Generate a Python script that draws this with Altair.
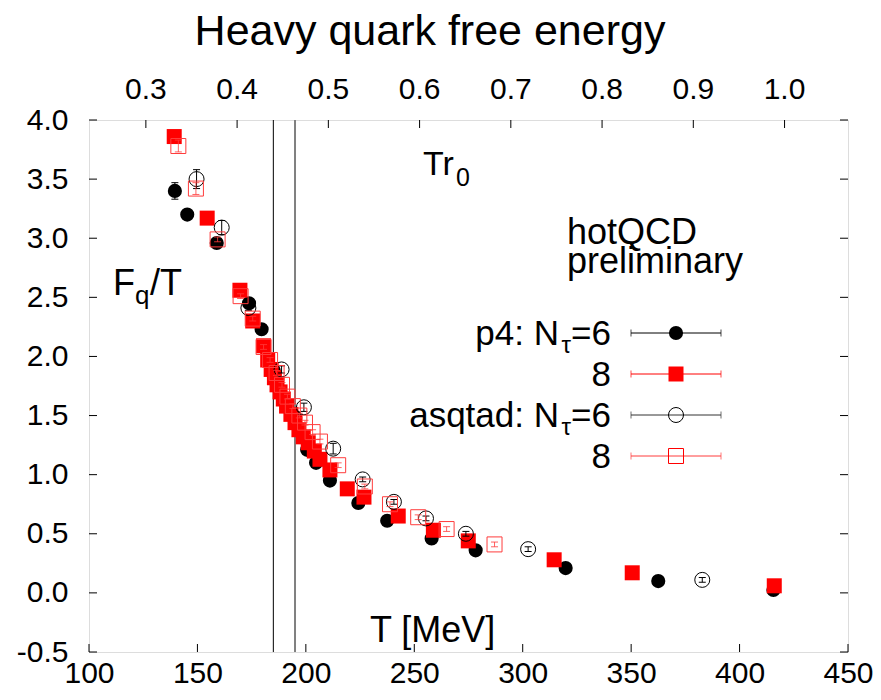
import altair as alt
import pandas as pd

R0 = 0.469 / 197.327  # r0 in 1/MeV, for the upper T*r0 scale
T_DOMAIN = [100, 450]
F_DOMAIN = [-0.5, 4.0]
W, H = 759, 532
FONT = "Liberation Sans"

T_TICKS = [100, 150, 200, 250, 300, 350, 400, 450]
F_TICKS = [-0.5, 0.0, 0.5, 1.0, 1.5, 2.0, 2.5, 3.0, 3.5, 4.0]
TR0_TICKS = [0.3, 0.4, 0.5, 0.6, 0.7, 0.8, 0.9, 1.0]
TC_LINES = [185, 195]

# p4, N_tau = 6
p4_6_T = [139.6, 145.3, 158.9, 173.8, 179.6, 185.2, 195.0, 200.6, 204.7, 211.1,
          224.2, 237.5, 258.0, 278.3, 319.8, 362.5, 415.6]
p4_6_F = [3.40, 3.20, 2.96, 2.45, 2.23, 1.88, 1.49, 1.21, 1.10, 0.95,
          0.76, 0.61, 0.46, 0.36, 0.21, 0.10, 0.025]
p4_6_err = [0.07, 0.01, 0.01, 0.01, 0.01, 0.02, 0.02, 0.01, 0.01, 0.01,
            0.01, 0.01, 0.01, 0.01, 0.01, 0.01, 0.01]

# p4, N_tau = 8
p4_8_T = [139.3, 154.5, 169.6, 175.5, 180.5, 182.4, 184.0, 185.5, 186.7, 188.1,
          189.6, 191.1, 193.1, 195.0, 196.8, 198.8, 201.1, 203.9, 206.5, 211.1,
          219.1, 226.8, 242.6, 258.8, 274.9, 314.5, 350.5, 416.0]
p4_8_F = [3.86, 3.17, 2.56, 2.30, 2.09, 1.97, 1.89, 1.82, 1.76, 1.70,
          1.64, 1.58, 1.51, 1.44, 1.38, 1.32, 1.27, 1.20, 1.13, 1.04,
          0.88, 0.81, 0.65, 0.53, 0.44, 0.28, 0.17, 0.06]
p4_8_err = [0.02] * len(p4_8_T)

# asqtad, N_tau = 6
as_6_T = [149.6, 161.2, 173.5, 188.8, 199.1, 212.6, 226.2, 240.6, 255.4, 273.8,
          302.5, 382.8]
as_6_F = [3.50, 3.09, 2.41, 1.89, 1.57, 1.22, 0.96, 0.77, 0.63, 0.50, 0.37, 0.11]
as_6_err = [0.08, 0.06, 0.02, 0.03, 0.035, 0.045, 0.02, 0.02, 0.02, 0.02, 0.02, 0.02]

# asqtad, N_tau = 8
as_8_T = [141.2, 149.3, 159.3, 169.9, 175.5, 180.5, 183.5, 186.5, 189.0, 191.5,
          194.0, 197.0, 199.6, 203.1, 206.5, 214.9, 227.2, 238.8, 251.8, 264.9, 287.0]
as_8_F = [3.78, 3.42, 2.99, 2.51, 2.32, 2.08, 1.97, 1.86, 1.76, 1.66,
          1.58, 1.50, 1.44, 1.36, 1.28, 1.08, 0.90, 0.75, 0.64, 0.54, 0.41]
as_8_err = [0.05, 0.05, 0.02, 0.02, 0.02, 0.02, 0.02, 0.02, 0.02, 0.02,
            0.02, 0.02, 0.02, 0.02, 0.02, 0.02, 0.02, 0.02, 0.02, 0.02, 0.02]

RED = "#ff0000"
LIGHT_RED = "#ff3c3c"

xs = alt.Scale(domain=T_DOMAIN, nice=False, zero=False)
ys = alt.Scale(domain=F_DOMAIN, nice=False, zero=False)

x_axis = alt.Axis(values=T_TICKS, format="d", title=None, grid=False, ticks=False, domain=False,
                  labelFont=FONT, labelFontSize=30, labelColor="black", labelPadding=30,
                  labelBaseline="alphabetic", labelFlush=False, labelOverlap=False)
y_axis = alt.Axis(values=F_TICKS, title=None, grid=False, ticks=False, domain=False,
                  labelFont=FONT, labelFontSize=30, labelColor="black", labelPadding=21,
                  labelFlush=False, labelOverlap=False,
                  labelExpr="datum.value < 0 ? '-' + format(-datum.value, '.1f') : format(datum.value, '.1f')")


def xenc(field="T"):
    return alt.X(f"{field}:Q", scale=xs, axis=x_axis)


def yenc(field="F"):
    return alt.Y(f"{field}:Q", scale=ys, axis=y_axis)


def frame(t, f, err):
    return pd.DataFrame({"T": t, "F": f,
                         "lo": [a - b for a, b in zip(f, err)],
                         "hi": [a + b for a, b in zip(f, err)]})


def series(df, color, shape, filled, size, bar_opacity=1.0):
    bars = alt.Chart(df).mark_rule(color=color, strokeWidth=1, opacity=bar_opacity).encode(
        x=xenc(), y=yenc("lo"), y2="hi:Q")
    cap_lo = alt.Chart(df).mark_point(shape="M-1,0L1,0", size=49, color=color, strokeWidth=1,
                                      opacity=bar_opacity).encode(x=xenc(), y=yenc("lo"))
    cap_hi = alt.Chart(df).mark_point(shape="M-1,0L1,0", size=49, color=color, strokeWidth=1,
                                      opacity=bar_opacity).encode(x=xenc(), y=yenc("hi"))
    pts = alt.Chart(df).mark_point(shape=shape, filled=filled, size=size, color=color,
                                   strokeWidth=1, opacity=1).encode(x=xenc(), y=yenc("F"))
    return [bars, cap_lo, cap_hi, pts]


one = pd.DataFrame({"k": [0]})


def text(s, x, y, size, align="left", color="black"):
    return alt.Chart(one).mark_text(text=s, align=align, baseline="alphabetic", font=FONT,
                                    fontSize=size, color=color).encode(x=alt.value(x), y=alt.value(y))


# Tc band lines
tc = pd.DataFrame({"T": TC_LINES, "c": ["#000000", "#808080"], "w": [1, 2]})
tc_lines = alt.Chart(tc).mark_rule().encode(
    x=xenc(), y=alt.value(0), y2=alt.value(H),
    color=alt.Color("c:N", scale=None), strokeWidth=alt.StrokeWidth("w:Q", scale=None))

# inward ticks
tt = pd.DataFrame({"T": T_TICKS})
ft = pd.DataFrame({"F": F_TICKS})
rt = pd.DataFrame({"tr0": TR0_TICKS})
ticks = [
    alt.Chart(tt).mark_rule(color="black").encode(x=xenc(), y=alt.value(H - 8), y2=alt.value(H)),
    alt.Chart(ft).mark_rule(color="black").encode(y=yenc(), x=alt.value(0), x2=alt.value(8)),
    alt.Chart(ft).mark_rule(color="black").encode(y=yenc(), x=alt.value(W - 8), x2=alt.value(W)),
    alt.Chart(rt).transform_calculate(T=f"datum.tr0 / {R0}").mark_rule(color="black").encode(
        x=xenc(), y=alt.value(0), y2=alt.value(8)),
    alt.Chart(rt).transform_calculate(T=f"datum.tr0 / {R0}", lab="format(datum.tr0, '.1f')").mark_text(
        baseline="alphabetic", font=FONT, fontSize=30, color="black").encode(
        x=xenc(), y=alt.value(-21), text="lab:N"),
]

layers = [tc_lines] + ticks
layers += series(frame(p4_6_T, p4_6_F, p4_6_err), "black", "circle", True, 200)
layers += series(frame(p4_8_T, p4_8_F, p4_8_err), RED, "square", True, 225)
layers += series(frame(as_6_T, as_6_F, as_6_err), "black", "circle", False, 225)
layers += series(frame(as_8_T, as_8_F, as_8_err), LIGHT_RED, "square", False, 225, 0.8)

# labels
layers += [
    text("Heavy quark free energy", 341, -75, 43, align="center"),
    text("F", 24, 175, 36),
    text("q", 46, 184, 26),
    text("/T", 61, 175, 36),
    text("T [MeV]", 281, 522, 36),
    text("Tr", 334, 55, 34),
    text("0", 367, 66, 25),
    text("hotQCD", 478, 124, 36),
    text("preliminary", 478, 153, 36),
]

# legend
rows = [213, 254, 295, 336]
legend_items = [
    ("p4: N", "black", "circle", True, 200),
    (None, RED, "square", True, 225),
    ("asqtad: N", "#333333", "circle", False, 225),
    (None, LIGHT_RED, "square", False, 225),
]
for ry, (name, color, shape, filled, size) in zip(rows, legend_items):
    if name:
        layers += [text("=6", 522, ry + 12, 35, align="right"),
                   text("τ", 482, ry + 20, 24, align="right"),
                   text(name, 470, ry + 12, 35, align="right")]
    else:
        layers.append(text("8", 522, ry + 12, 35, align="right"))
    layers += [
        alt.Chart(one).mark_rule(color=color, strokeWidth=1).encode(
            x=alt.value(542), x2=alt.value(632), y=alt.value(ry)),
        alt.Chart(one).mark_point(shape="M0,-1L0,1", size=49, color=color, strokeWidth=1).encode(
            x=alt.value(542), y=alt.value(ry)),
        alt.Chart(one).mark_point(shape="M0,-1L0,1", size=49, color=color, strokeWidth=1).encode(
            x=alt.value(632), y=alt.value(ry)),
        alt.Chart(one).mark_point(shape=shape, filled=filled, size=size,
                                  color=color if filled else ("black" if shape == "circle" else RED),
                                  strokeWidth=1, opacity=1).encode(x=alt.value(587), y=alt.value(ry)),
    ]

chart = alt.layer(*layers).properties(
    width=W, height=H,
    autosize=alt.AutoSizeParams(type="none"),
    padding={"left": 81, "top": 112, "right": 25, "bottom": 38},
).configure_view(stroke="black", strokeWidth=1.5).configure(background="white")

chart.save("out.html", embed_options={"renderer": "svg", "actions": False})
